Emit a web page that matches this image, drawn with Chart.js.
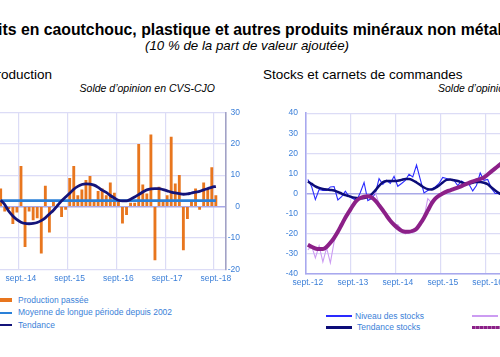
<!DOCTYPE html>
<html><head><meta charset="utf-8">
<script src="https://cdn.jsdelivr.net/npm/chart.js@4.4.0/dist/chart.umd.min.js"></script>
<style>
html,body{margin:0;padding:0;background:#fff;}
body{width:500px;height:357px;overflow:hidden;position:relative;font-family:"Liberation Sans",Arial,sans-serif;}
.abs{position:absolute;white-space:nowrap;line-height:1;}
#title{left:-250px;width:1000px;text-align:center;top:22px;font-weight:bold;font-size:15.8px;color:#000;}
#subtitle{left:-253px;width:1000px;text-align:center;top:38.5px;font-style:italic;font-size:13.3px;color:#000;}
.ctitle{font-size:13.5px;color:#000;top:68px;}
.csub{font-size:10.5px;font-style:italic;color:#000;top:83px;}
canvas{position:absolute;}
.leg{font-size:8.5px;color:#3b7fd8;}
.mk{position:absolute;}
</style></head>
<body>
<div id="title" class="abs">Produits en caoutchouc, plastique et autres produits minéraux non métalliques</div>
<div id="subtitle" class="abs">(10 % de la part de valeur ajoutée)</div>
<div class="abs ctitle" style="right:448px;">Production</div>
<div class="abs csub" style="right:285px;">Solde d’opinion en CVS-CJO</div>
<div class="abs ctitle" style="left:263px;">Stocks et carnets de commandes</div>
<div class="abs csub" style="left:438px;">Solde d’opinion en CVS-CJO</div>

<canvas id="c1" width="260" height="190" style="left:-20px;top:100px;"></canvas>
<canvas id="c2" width="340" height="194" style="left:250px;top:100px;"></canvas>

<div id="leg1"></div>
<div id="leg2"></div>

<script>
// ---------- categories ----------
const moisFr = ['janv.','févr.','mars','avr.','mai','juin','juil.','août','sept.','oct.','nov.','déc.'];
function monthLabels(year, monthIdx, count){
  const out=[]; let y=year, m=monthIdx;
  for(let i=0;i<count;i++){ out.push(moisFr[m]+'-'+String(y%100).padStart(2,'0')); m++; if(m>11){m=0;y++;} }
  return out;
}
// Production chart: avr. 2014 -> nov. 2018
const prodCategories = monthLabels(2014, 3, 56);
// Stocks chart: sept. 2012 -> nov. 2018
const stockCategories = monthLabels(2012, 8, 75);
const tickLabelMonth = 'sept.';

// ---------- Production series (avr. 2014 -> sept. 2018) ----------
const productionPassee = [5.6,-1.5,-0.7,-5.5,-1.8,12.8,-12.8,-1.5,-4.3,-3.6,-14.9,6.5,-8.2,1.6,0.5,-3.2,-0.9,9.0,12.8,3.5,
  5.3,8.3,9.6,1.9,4.8,5.6,3.5,7.5,4.3,1.4,-5.3,-2.6,1.1,1.1,19.8,6.9,4.0,22.8,-17.0,6.2,
  1.4,3.5,22.1,7.2,9.9,-13.8,-3.9,1.4,5.6,-0.9,7.5,5.6,12.4,3.5];
const moyenneLongue = 1.9;
const tendanceProduction = [2.0,0.6,-1.5,-3.0,-4.2,-5.0,-5.4,-5.5,-5.4,-5.1,-4.5,-3.6,-2.4,-1.2,0.3,1.8,3.0,4.2,5.5,6.4,
  7.0,7.2,7.1,6.8,6.1,5.2,4.5,3.5,2.7,2.0,1.8,1.8,2.3,3.0,3.8,4.6,5.3,5.6,5.7,5.7,
  5.4,5.0,4.6,4.3,4.1,3.9,4.0,4.3,4.6,4.8,5.3,5.7,6.1,6.4];

// ---------- Stocks / carnets series (sept. 2012 -> févr. 2017 visible) ----------
const niveauStocks = [7,3.5,-3,2,1.5,1.5,3.3,3.5,-3.2,-1.5,1.2,-1.5,-2.5,-3.6,0.5,5.5,-3.5,-2.5,0,7.4,
  4.6,6.6,5,8.6,3.6,5,6.5,9.6,8.3,14.2,7,0.3,1.5,2.3,3.3,5,8,7.5,7,6.6,
  4,6.3,5,4.6,1.3,4,10.2,6.6,7,2.5,0,0,-1,-2];
const tendanceStocks = [6.0,4.8,3.6,2.8,2.3,2.0,1.8,1.5,0.8,0.0,-0.8,-1.3,-1.9,-2.2,-2.3,-2.2,-1.6,-0.4,1.6,3.8,
  5.6,6.2,6.3,6.3,6.4,6.8,7.2,7.2,6.6,5.5,4.3,3.0,2.2,2.0,2.8,4.0,5.5,6.8,7.0,6.6,
  6.2,5.6,5.0,5.0,5.4,5.8,5.8,5.4,4.6,3.0,1.5,0.2,-0.8,-1.5];
const carnetsCommandes = [-28,-26,-32,-26,-34,-27,-34.5,-24,-18,-16,-12,-9.5,-6,-3,-2,-1,-0.5,-1.5,0.5,-5,
  -9,-11,-14,-16,-15.5,-18,-20,-19,-19.5,-16.5,-14,-12,-2.5,-4.5,-2.5,-1.5,0.5,1.5,2,2.5,
  3.5,3,4.5,5.5,6.5,7,7.5,8,9.5,11,12.5,14,15.5,17];
const tendanceCarnets = [-25.5,-26.5,-27.3,-27.6,-27.6,-26.5,-24.5,-22,-19,-15.5,-12,-9,-6,-3.5,-2.2,-1.6,-1.4,-2,-3.5,-5.8,
  -8.3,-11,-13.5,-15.5,-17.2,-18.5,-19,-19,-18.5,-17.5,-15,-12,-8.5,-5,-2.5,-1,0,1,1.6,2.3,
  3,3.7,4.5,5.3,6,6.7,7.2,8,9.5,11,12.5,14,15.5,17];

const prodTicks = [-20,-10,0,10,20,30];
const stockTicks = [-40,-30,-20,-10,0,10,20,30,40];

// ---------- styles ----------
const FONT = '"Liberation Sans", Arial, sans-serif';
const TICK_COLOR = '#3b7fd8';
const GRID = '#dcdcf6';
const ZERO = '#a9a9e8';
const C_BAR = '#e8761e', C_MOY = '#2a80d8', C_TEND = '#14147a';
const C_NIV = '#2a2aff', C_TSTK = '#0c0c78', C_CARN = '#cc9cf2', C_TCARN = '#8c2088';

function sepGrid(labels){
  return (ctx)=>{ const l = labels[ctx.index]; return (l && l.startsWith(tickLabelMonth) && ctx.index>0) ? GRID : 'rgba(0,0,0,0)'; };
}
function sepTick(labels){
  return function(val, idx){ const l = labels[idx]; return l && l.startsWith(tickLabelMonth) ? l : ''; };
}

// ---------- Production chart ----------
new Chart(document.getElementById('c1'), {
  data: {
    labels: prodCategories,
    datasets: [
      {type:'bar', label:'Production passée', data: productionPassee, backgroundColor:C_BAR, barThickness:2.2, order:3},
      {type:'line', label:'Moyenne de longue période depuis 2002', data: productionPassee.map(()=>moyenneLongue),
        borderColor:C_MOY, borderWidth:2.8, pointRadius:0, order:2},
      {type:'line', label:'Tendance', data: tendanceProduction, borderColor:C_TEND, borderWidth:2.8,
        pointRadius:0, tension:0.4, cubicInterpolationMode:'monotone', order:1}
    ]
  },
  options: {
    responsive:false, animation:false, devicePixelRatio:1,
    layout:{padding:{left:18.65, top:12.3, right:0, bottom:0}},
    plugins:{legend:{display:false}, tooltip:{enabled:false}},
    scales:{
      x:{type:'category', offset:true,
        grid:{offset:true, drawTicks:false, color:sepGrid(prodCategories), lineWidth:1.2},
        border:{display:true, color:GRID, width:1},
        ticks:{autoSkip:false, maxRotation:0, padding:4.5, color:TICK_COLOR, font:{family:FONT,size:8.5},
          callback: sepTick(prodCategories)},
        afterFit:(s)=>{ s.height = 20.7; }
      },
      y:{position:'right', min:-20, max:30,
        afterBuildTicks:(s)=>{ s.ticks = prodTicks.map(v=>({value:v})); },
        grid:{drawTicks:false, color:(c)=> c.tick && c.tick.value===0 ? ZERO : GRID, lineWidth:(c)=> c.tick && c.tick.value===0 ? 1.5 : 1.2},
        border:{display:true, color:'#a2a2c6', width:1.6},
        ticks:{crossAlign:'far', padding:0, color:TICK_COLOR, font:{family:FONT,size:8.5}},
        afterFit:(s)=>{ s.width = 14; }
      }
    }
  }
});

// ---------- Stocks chart ----------
new Chart(document.getElementById('c2'), {
  type:'line',
  data: {
    labels: stockCategories,
    datasets: [
      {label:'Niveau des stocks', data: niveauStocks, borderColor:C_NIV, borderWidth:1.1, pointRadius:0, tension:0, order:4},
      {label:'Carnets de commandes', data: carnetsCommandes, borderColor:C_CARN, borderWidth:1.1, pointRadius:0, tension:0, order:3},
      {label:'Tendance stocks', data: tendanceStocks, borderColor:C_TSTK, borderWidth:2.5, pointRadius:0, tension:0.4, cubicInterpolationMode:'monotone', order:2},
      {label:'Tendance carnets', data: tendanceCarnets, borderColor:C_TCARN, borderWidth:4, pointRadius:0, tension:0.4, cubicInterpolationMode:'monotone', order:1}
    ]
  },
  options: {
    responsive:false, animation:false, devicePixelRatio:1,
    layout:{padding:{left:0, top:13, right:3, bottom:0}},
    plugins:{legend:{display:false}, tooltip:{enabled:false}},
    scales:{
      x:{type:'category', offset:true,
        grid:{offset:true, drawTicks:false, color:sepGrid(stockCategories), lineWidth:1.2},
        border:{display:true, color:'#a8a8ee', width:1.6},
        ticks:{autoSkip:false, maxRotation:0, padding:4, color:TICK_COLOR, font:{family:FONT,size:8.5},
          callback: sepTick(stockCategories)},
        afterFit:(s)=>{ s.height = 20; }
      },
      y:{position:'left', min:-40, max:40,
        afterBuildTicks:(s)=>{ s.ticks = stockTicks.map(v=>({value:v})); },
        grid:{drawTicks:false, color:(c)=> c.tick && c.tick.value===0 ? ZERO : GRID, lineWidth:(c)=> c.tick && c.tick.value===0 ? 1.5 : 1.2},
        border:{display:true, color:'#a8a8ee', width:1.6},
        ticks:{padding:8, color:TICK_COLOR, font:{family:FONT,size:8.5}},
        afterFit:(s)=>{ s.width = 56; }
      }
    }
  }
});

// ---------- HTML legends ----------
function addLeg(parent, items){
  const p = document.getElementById(parent);
  items.forEach(it=>{
    const m = document.createElement('div');
    m.className='mk';
    Object.assign(m.style, {left:it.mx+'px', top:(it.my - it.mh/2)+'px', width:it.mw+'px', height:it.mh+'px',
      background:it.color});
    if(it.dotted){ m.style.background = 'repeating-linear-gradient(90deg,'+it.color+' 0 3px,#b070b0 3px 4px)'; }
    p.appendChild(m);
    const t = document.createElement('div');
    t.className='abs leg'; t.textContent = it.text;
    Object.assign(t.style,{left:it.tx+'px', top:(it.my-4.5)+'px'});
    p.appendChild(t);
  });
}
addLeg('leg1', [
  {text:'Production passée', color:C_BAR, mx:-10, mw:22, my:300.3, mh:4, tx:18},
  {text:'Moyenne de longue période depuis 2002', color:C_MOY, mx:-10, mw:22, my:312.8, mh:2, tx:18},
  {text:'Tendance', color:C_TEND, mx:-10, mw:22, my:325.2, mh:2, tx:18}
]);
addLeg('leg2', [
  {text:'Niveau des stocks', color:C_NIV, mx:326, mw:26, my:316, mh:1.5, tx:355},
  {text:'Tendance stocks', color:C_TSTK, mx:326, mw:26, my:327.8, mh:3, tx:357},
  {text:'Carnets de commandes', color:C_CARN, mx:472, mw:26, my:316, mh:1.5, tx:505},
  {text:'Tendance carnets', color:C_TCARN, mx:472, mw:28, my:327.8, mh:3, tx:505, dotted:true}
]);
</script>
</body></html>
